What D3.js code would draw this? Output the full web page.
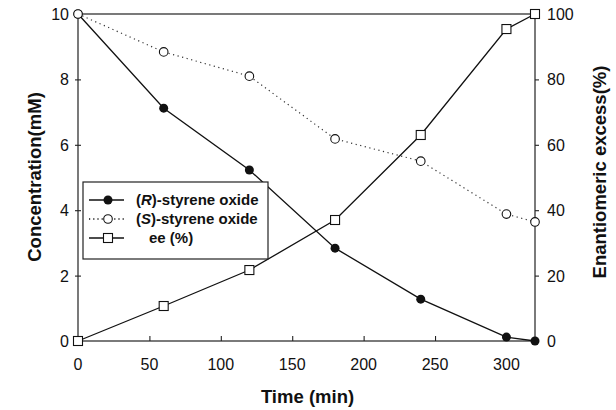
<!DOCTYPE html>
<html>
<head>
<meta charset="utf-8">
<script src="https://cdn.jsdelivr.net/npm/d3@7"></script>
<style>
  body { margin: 0; background: #fff; }
  text { font-family: "Liberation Sans", Arial, sans-serif; fill: #111; }
</style>
</head>
<body>
<div id="chart"></div>
<script>
// data
var times = [0, 60, 120, 180, 240, 300, 320];
var rOxide = [10, 7.12, 5.23, 2.84, 1.28, 0.12, 0];
var sOxide = [10, 8.84, 8.1, 6.18, 5.5, 3.88, 3.64];
var eePct = [0, 10.7, 21.7, 37, 63, 95.4, 100];
var xTicks = [0, 50, 100, 150, 200, 250, 300];
var leftTicks = [0, 2, 4, 6, 8, 10];
var rightTicks = [0, 20, 40, 60, 80, 100];
var legendLabels = [["R", "-styrene oxide"], ["S", "-styrene oxide"], [null, "ee (%)"]];

var width = 616, height = 410;
var margin = { top: 14, right: 81, bottom: 69, left: 78 };

var svg = d3.select('#chart').append('svg')
    .attr('width', width).attr('height', height);

var x = d3.scaleLinear().domain([0, 320]).range([margin.left, width - margin.right]);
var yL = d3.scaleLinear().domain([0, 10]).range([height - margin.bottom, margin.top]);
var yR = d3.scaleLinear().domain([0, 100]).range([height - margin.bottom, margin.top]);

// frame
svg.append('rect')
    .attr('x', x(0)).attr('y', yL(10))
    .attr('width', x(320) - x(0)).attr('height', yL(0) - yL(10))
    .attr('fill', 'none').attr('stroke', '#222').attr('stroke-width', 1.2);

// axes
var gx = svg.append('g').attr('transform', 'translate(0,' + yL(0) + ')')
    .call(d3.axisTop(x).tickValues(xTicks).tickSize(5).tickFormat(''));
var gl = svg.append('g').attr('transform', 'translate(' + (x(0) + 3) + ',0)')
    .call(d3.axisLeft(yL).tickValues(leftTicks).tickSize(6).tickFormat(''));
var gr = svg.append('g').attr('transform', 'translate(' + x(320) + ',0)')
    .call(d3.axisRight(yR).tickValues(rightTicks).tickSize(4).tickFormat(''));
[gx, gl, gr].forEach(function (g) {
    g.select('.domain').remove();
    g.selectAll('line').attr('stroke', '#222').attr('stroke-width', 1.1);
});

// tick labels
svg.append('g').selectAll('text').data(xTicks).enter().append('text')
    .attr('x', function (d) { return x(d); })
    .attr('y', yL(0) + 29)
    .attr('text-anchor', 'middle')
    .style('font-size', '16px')
    .text(function (d) { return d; });
svg.append('g').selectAll('text').data(leftTicks).enter().append('text')
    .attr('x', x(0) - 9)
    .attr('y', function (d) { return yL(d) + 6; })
    .attr('text-anchor', 'end')
    .style('font-size', '16px')
    .text(function (d) { return d; });
svg.append('g').selectAll('text').data(rightTicks).enter().append('text')
    .attr('x', x(320) + 12)
    .attr('y', function (d) { return yR(d) + 6; })
    .attr('text-anchor', 'start')
    .style('font-size', '16px')
    .text(function (d) { return d; });

// axis titles
svg.append('text')
    .attr('x', (x(0) + x(320)) / 2 + 1).attr('y', 403)
    .attr('text-anchor', 'middle')
    .style('font-size', '18.5px').style('font-weight', 'bold')
    .text('Time (min)');
svg.append('text')
    .attr('transform', 'translate(41,177) rotate(-90)')
    .attr('text-anchor', 'middle')
    .style('font-size', '18.5px').style('font-weight', 'bold')
    .text('Concentration(mM)');
svg.append('text')
    .attr('transform', 'translate(606,172) rotate(-90)')
    .attr('text-anchor', 'middle')
    .style('font-size', '18.5px').style('font-weight', 'bold')
    .text('Enantiomeric excess(%)');

// lines
function pts(vals) { return times.map(function (t, i) { return [t, vals[i]]; }); }
var lineL = d3.line().x(function (d) { return x(d[0]); }).y(function (d) { return yL(d[1]); });
var lineR = d3.line().x(function (d) { return x(d[0]); }).y(function (d) { return yR(d[1]); });

svg.append('path').datum(pts(sOxide)).attr('d', lineL)
    .attr('fill', 'none').attr('stroke', '#333').attr('stroke-width', 1.2)
    .attr('stroke-dasharray', '1.2,3.5');
svg.append('path').datum(pts(rOxide)).attr('d', lineL)
    .attr('fill', 'none').attr('stroke', '#111').attr('stroke-width', 1.3);
svg.append('path').datum(pts(eePct)).attr('d', lineR)
    .attr('fill', 'none').attr('stroke', '#111').attr('stroke-width', 1.3);

// markers
svg.append('g').selectAll('circle').data(pts(rOxide)).enter().append('circle')
    .attr('cx', function (d) { return x(d[0]); })
    .attr('cy', function (d) { return yL(d[1]); })
    .attr('r', 4.5).attr('fill', '#111');
svg.append('g').selectAll('circle').data(pts(sOxide)).enter().append('circle')
    .attr('cx', function (d) { return x(d[0]); })
    .attr('cy', function (d) { return yL(d[1]); })
    .attr('r', 4.3).attr('fill', '#fff').attr('stroke', '#111').attr('stroke-width', 1.1);
svg.append('g').selectAll('rect').data(pts(eePct)).enter().append('rect')
    .attr('x', function (d) { return x(d[0]) - 4.5; })
    .attr('y', function (d) { return yR(d[1]) - 4.5; })
    .attr('width', 9).attr('height', 9)
    .attr('fill', '#fff').attr('stroke', '#111').attr('stroke-width', 1.1);

// legend
var lg = svg.append('g').attr('transform', 'translate(83,182)');
lg.append('rect').attr('width', 185).attr('height', 77)
    .attr('fill', '#fff').attr('stroke', '#222').attr('stroke-width', 1.2);
legendLabels.forEach(function (lab, i) {
    var cy = 18 + i * 19;
    var row = lg.append('g');
    row.append('line').attr('x1', 6).attr('x2', 41).attr('y1', cy).attr('y2', cy)
        .attr('stroke', '#111').attr('stroke-width', 1.3)
        .attr('stroke-dasharray', i === 1 ? '1.2,3' : null);
    if (i === 0) {
        row.append('circle').attr('cx', 25).attr('cy', cy).attr('r', 4.5).attr('fill', '#111');
    } else if (i === 1) {
        row.append('circle').attr('cx', 25).attr('cy', cy).attr('r', 4.3)
            .attr('fill', '#fff').attr('stroke', '#111').attr('stroke-width', 1.1);
    } else {
        row.append('rect').attr('x', 20.5).attr('y', cy - 4.5).attr('width', 9).attr('height', 9)
            .attr('fill', '#fff').attr('stroke', '#111').attr('stroke-width', 1.1);
    }
    var t = row.append('text').attr('x', lab[0] ? 53 : 66).attr('y', cy + 5)
        .style('font-size', '15px').style('font-weight', 'bold');
    if (lab[0]) {
        t.append('tspan').text('(');
        t.append('tspan').style('font-style', 'italic').text(lab[0]);
        t.append('tspan').text(')' + lab[1]);
    } else {
        t.text(lab[1]);
    }
});
</script>
</body>
</html>
